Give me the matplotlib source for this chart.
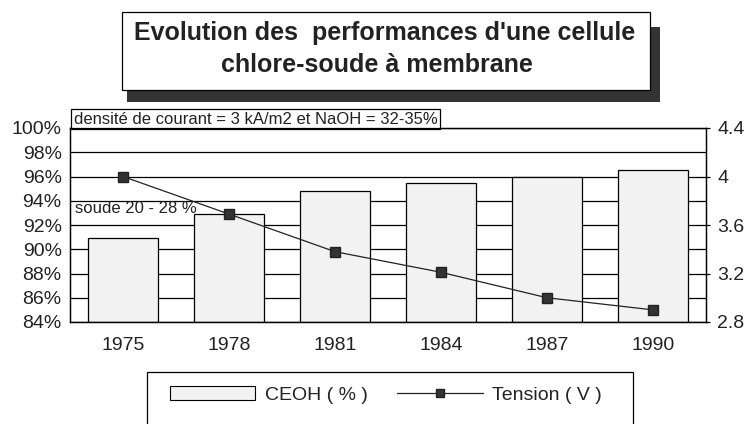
import matplotlib
matplotlib.use('Agg')
import matplotlib.pyplot as plt
from matplotlib.patches import Rectangle, Patch
from matplotlib.lines import Line2D

annees = ['1975', '1978', '1981', '1984', '1987', '1990']
ceoh = [90.9, 92.9, 94.8, 95.5, 96.0, 96.5]
tension = [4.0, 3.69, 3.38, 3.21, 3.0, 2.9]

gauche_ticks = list(range(84, 101, 2))
droite_ticks = [2.8, 3.2, 3.6, 4.0, 4.4]
droite_labels = ['2.8', '3.2', '3.6', '4', '4.4']

plt.rcParams['font.family'] = ['Liberation Sans', 'DejaVu Sans']

W, H = 747, 424
fig = plt.figure(figsize=(W / 100, H / 100), dpi=100)
fig.patch.set_facecolor('white')

def fx(px):
    return px / W

def fy(py):
    return 1 - py / H

ax = fig.add_axes([fx(70), fy(322), fx(706) - fx(70), fy(128) - fy(322)])
x = list(range(len(annees)))

# grille horizontale derriere les barres
for v in gauche_ticks:
    ax.axhline(v, color='black', lw=0.9, zorder=0)

ax.bar(x, [c - 84 for c in ceoh], bottom=84, width=0.66, color='#f2f2f2',
       edgecolor='black', linewidth=0.9, zorder=2)
ax.set_xlim(-0.5, len(annees) - 0.5)
ax.set_ylim(84, 100)
ax.set_yticks(gauche_ticks)
ax.set_yticklabels([f'{v}%' for v in gauche_ticks])
ax.set_xticks(x)
ax.set_xticklabels(annees)
ax.tick_params(axis='y', length=0, pad=6, labelsize=14, labelcolor='#222222')
ax.tick_params(axis='x', length=0, pad=11, labelsize=14, labelcolor='#222222')
for s in ax.spines.values():
    s.set_linewidth(0.9)

ax2 = ax.twinx()
ax2.plot(x, tension, color='#222222', lw=0.9, marker='s', markersize=6.5,
         markerfacecolor='#333333', markeredgecolor='#222222', zorder=5)
ax2.set_ylim(2.8, 4.4)
ax2.set_yticks(droite_ticks)
ax2.set_yticklabels(droite_labels)
ax2.tick_params(axis='y', length=3, width=0.9, pad=5, labelsize=14, labelcolor='#222222')
for s in ax2.spines.values():
    s.set_linewidth(0.9)

ax.text(0.006, 1.006, 'densité de courant = 3 kA/m2 et NaOH = 32-35%',
        transform=ax.transAxes, fontsize=12, va='bottom', ha='left', color='#222222',
        bbox=dict(boxstyle='square,pad=0.15', fc='white', ec='black', lw=0.9))
ax.text(0.008, 93.35, 'soude 20 - 28 %', transform=ax.get_yaxis_transform(),
        fontsize=12, va='center', ha='left', color='#222222', zorder=6)

# titre dans un cadre avec ombre
fig.patches.append(Rectangle((fx(127), fy(102)), fx(660) - fx(127), fy(27) - fy(102),
                             transform=fig.transFigure, fc='#333333', ec='none'))
fig.patches.append(Rectangle((fx(122), fy(90)), fx(650) - fx(122), fy(12) - fy(90),
                             transform=fig.transFigure, fc='white', ec='black', lw=0.9))
fig.text(fx(385), fy(33), "Evolution des  performances d'une cellule",
         fontsize=18, fontweight='bold', ha='center', va='center', color='#222222')
fig.text(fx(377), fy(65), 'chlore-soude à membrane',
         fontsize=18, fontweight='bold', ha='center', va='center', color='#222222')

# legende
fig.patches.append(Rectangle((fx(147), fy(430)), fx(633) - fx(147), fy(372) - fy(430),
                             transform=fig.transFigure, fc='white', ec='black', lw=0.9))
handles = [Patch(facecolor='#f2f2f2', edgecolor='black', linewidth=0.8, label='CEOH ( % )'),
           Line2D([], [], color='#222222', lw=0.9, marker='s', markersize=6,
                  markerfacecolor='#333333', label='Tension ( V )')]
leg = fig.legend(handles=handles, ncol=2, frameon=False, loc='center',
                 bbox_to_anchor=(fx(386), fy(395)), fontsize=14, handlelength=4.4,
                 handleheight=0.7, columnspacing=1.5, handletextpad=0.5)
for t in leg.get_texts():
    t.set_color('#222222')

fig.savefig('out.png', dpi=100)
